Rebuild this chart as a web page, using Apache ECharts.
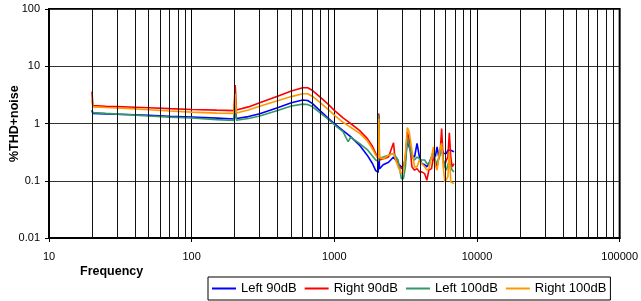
<!DOCTYPE html>
<html>
<head>
<meta charset="utf-8">
<title>THD+noise vs Frequency</title>
<script src="https://cdn.jsdelivr.net/npm/echarts@6/dist/echarts.min.js"></script>
<style>
html,body{margin:0;padding:0;background:#fff;}
#chart{width:641px;height:301px;}
</style>
</head>
<body>
<div id="chart"></div>
<script>
// DATA
const freq=[20,20.3,25,30,40,50,70,100,150,198,
  202,206,250,300,400,500,600,650,700,800,
  900,1000,1150,1250,1300,1500,1700,1850,1950,2030,
  2050,2070,2200,2400,2600,2650,2800,2950,3050,3150,
  3250,3350,3500,3650,3800,3950,4100,4300,4450,4600,
  4800,4950,5100,5250,5400,5550,5650,5800,5950,6100,
  6250,6400,6550,6700,6900];
const left90=[1.7,1.5,1.47,1.45,1.42,1.39,1.34,1.3,1.24,1.2,
  1.9,1.22,1.32,1.48,1.88,2.3,2.57,2.52,2.25,1.65,
  1.25,1.0,0.75,0.64,0.59,0.42,0.28,0.2,0.15,0.14,
  1.35,0.16,0.19,0.21,0.26,0.24,0.2,0.175,0.175,0.23,
  0.51,0.39,0.28,0.26,0.45,0.26,0.2,0.19,0.175,0.2,
  0.26,0.32,0.26,0.39,0.26,0.26,0.37,0.3,0.32,0.3,
  0.34,0.32,0.34,0.32,0.32];
const right90=[3.6,2.05,2.0,1.97,1.92,1.88,1.82,1.76,1.71,1.68,
  4.7,1.72,1.95,2.3,3.0,3.7,4.2,4.2,3.8,2.85,
  2.2,1.7,1.25,1.08,1.0,0.76,0.55,0.4,0.3,0.24,
  1.5,0.23,0.24,0.26,0.46,0.28,0.19,0.163,0.175,0.26,
  0.71,0.51,0.175,0.153,0.163,0.143,0.143,0.133,0.102,0.153,
  0.163,0.26,0.21,0.175,0.26,0.39,0.82,0.23,0.19,0.23,
  0.26,0.69,0.26,0.175,0.2];
const left100=[1.7,1.55,1.5,1.46,1.4,1.35,1.29,1.25,1.17,1.13,
  2.0,1.14,1.22,1.35,1.68,2.02,2.18,2.15,1.98,1.52,
  1.2,0.95,0.72,0.48,0.58,0.45,0.35,0.27,0.23,0.22,
  1.4,0.25,0.26,0.28,0.3,0.28,0.23,0.109,0.109,0.175,
  0.58,0.42,0.26,0.23,0.26,0.24,0.23,0.23,0.2,0.19,
  0.26,0.3,0.23,0.2,0.24,0.3,0.39,0.23,0.175,0.153,
  0.163,0.23,0.175,0.153,0.143];
const right100=[2.6,1.95,1.9,1.87,1.8,1.74,1.65,1.58,1.52,1.5,
  3.3,1.53,1.72,2.0,2.5,2.95,3.3,3.3,3.0,2.3,
  1.78,1.4,1.05,0.92,0.86,0.68,0.5,0.36,0.28,0.25,
  1.22,0.26,0.24,0.28,0.3,0.28,0.175,0.133,0.143,0.3,
  0.85,0.71,0.34,0.175,0.175,0.23,0.2,0.175,0.153,0.163,
  0.26,0.39,0.19,0.153,0.26,0.39,0.45,0.175,0.095,0.102,
  0.117,0.32,0.095,0.092,0.089];
const seriesNames=['Left 90dB','Right 90dB','Left 100dB','Right 100dB'];
const seriesColors=['#0000ff','#ff0000','#339966','#ff9900'];
const xTicks=[10,100,1000,10000,100000];
const yTicks=[0.01,0.1,1,10,100];

// minor vertical grid: 2..9 in every decade
const minorX=[];
for(let d=0;d<xTicks.length-1;d++){for(let k=2;k<=9;k++)minorX.push(xTicks[d]*k);}

const pair=vals=>freq.map((f,i)=>[f,vals[i]]);
const values=[left90,right90,left100,right100];
const FONT='"Liberation Sans", Arial, sans-serif';

const chart=echarts.init(document.getElementById('chart'),null,{renderer:'canvas'});
chart.setOption({
  animation:false,
  backgroundColor:'#fff',
  textStyle:{fontFamily:FONT},
  grid:{left:49,right:21,top:9,bottom:63,show:true,borderColor:'#000',borderWidth:2,backgroundColor:'transparent'},
  xAxis:{
    type:'log',logBase:10,min:xTicks[0],max:xTicks[xTicks.length-1],
    axisLine:{show:true,lineStyle:{color:'#000',width:2}},
    axisTick:{show:true,length:4,lineStyle:{color:'#000'}},
    axisLabel:{color:'#000',fontSize:11,fontFamily:FONT,margin:13,formatter:v=>String(Math.round(v))},
    splitLine:{show:true,lineStyle:{color:'#000',width:1}}
  },
  yAxis:{
    type:'log',logBase:10,min:yTicks[0],max:yTicks[yTicks.length-1],
    axisLine:{show:true,lineStyle:{color:'#000',width:2}},
    axisTick:{show:true,length:4,lineStyle:{color:'#000'}},
    axisLabel:{color:'#000',fontSize:11,fontFamily:FONT,margin:9,formatter:v=>String(+(+v).toPrecision(3))},
    splitLine:{show:true,lineStyle:{color:'#333',width:1}}
  },
  legend:{
    data:seriesNames,left:208,top:277,orient:'horizontal',
    borderColor:'#000',borderWidth:1,padding:[5,4],itemGap:8,
    itemWidth:24,itemHeight:12,icon:'path://M0,5 L24,5 L24,7 L0,7 Z',
    textStyle:{color:'#000',fontSize:13,fontFamily:FONT}
  },
  graphic:[
    {type:'text',left:80,top:265,style:{text:'Frequency',font:'bold 12.5px '+FONT,fill:'#000'}},
    {type:'text',x:8,y:162,rotation:Math.PI/2,style:{text:'%THD+noise',font:'bold 12.5px '+FONT,fill:'#000'}}
  ],
  series:[
    {type:'line',name:'_grid',data:[],z:1,silent:true,
      markLine:{silent:true,symbol:['none','none'],label:{show:false},animation:false,
        lineStyle:{color:'#111',width:1,type:'solid'},
        data:minorX.map(v=>({xAxis:v}))}}
  ].concat(values.map((vals,i)=>({
    type:'line',name:seriesNames[i],data:pair(vals),z:3,
    showSymbol:false,symbol:'none',
    lineStyle:{color:seriesColors[i],width:1.6},itemStyle:{color:seriesColors[i]}
  })))
});
</script>
</body>
</html>
